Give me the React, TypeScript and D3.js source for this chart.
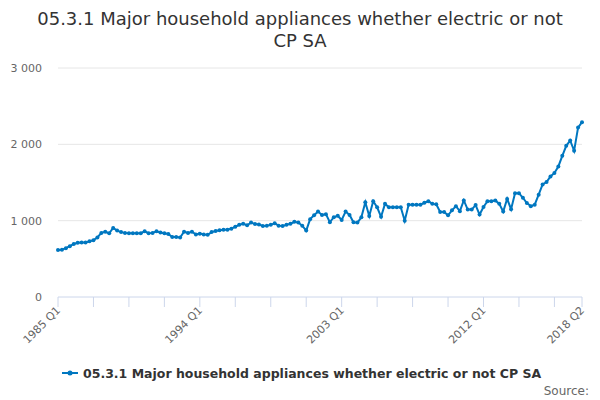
import React from 'react';
import * as d3 from 'd3';

const title = ['05.3.1 Major household appliances whether electric or not', 'CP SA'];
const seriesName = '05.3.1 Major household appliances whether electric or not CP SA';

const startYear = 1985;
const values: number[] = [
  615, 620, 640, 665, 695, 710, 715, 715, 730, 745, 780, 840, 855, 835, 905, 870,
  850, 840, 835, 835, 835, 835, 860, 835, 840, 860, 845, 835, 825, 785, 785, 780,
  855, 840, 855, 820, 830, 820, 815, 850, 865, 875, 880, 880, 895, 920, 945, 960,
  940, 975, 955, 950, 930, 935, 945, 965, 935, 930, 945, 960, 985, 975, 935, 870,
  1020, 1070, 1120, 1075, 1085, 980, 1045, 1065, 1010, 1120, 1075, 980, 975, 1045, 1240, 1060,
  1255, 1175, 1050, 1220, 1175, 1175, 1175, 1175, 1000, 1210, 1210, 1210, 1210, 1235, 1255, 1220,
  1215, 1115, 1115, 1070, 1135, 1190, 1125, 1265, 1145, 1145, 1205, 1080, 1180, 1255, 1255, 1265,
  1220, 1120, 1285, 1150, 1360, 1360, 1300, 1230, 1190, 1210, 1340, 1475, 1505, 1580, 1625, 1710,
  1850, 1980, 2050, 1915, 2220, 2290,
];
const labels = values.map((_, i) => `${startYear + Math.floor(i / 4)} Q${(i % 4) + 1}`);
const yTicks = [0, 1000, 2000, 3000];
const labelIdx = [0, 36, 72, 108, 133];

const W = 600, H = 400;
const m = { left: 58, right: 18, top: 68, bottom: 103 };
const font = '"DejaVu Sans", sans-serif';

export default function App() {
  const x = d3.scaleLinear().domain([0, values.length - 1]).range([m.left, W - m.right]);
  const y = d3.scaleLinear().domain([0, 3000]).range([H - m.bottom, m.top]);
  const line = d3.line<number>().x((_, i) => x(i)).y((d) => y(d));
  const tickIdx = [...d3.range(0, values.length, 9), values.length - 1];
  const base = y(0);

  return (
    <svg width={W} height={H} style={{ position: 'absolute', left: 0, top: 0, fontFamily: font }}>
      <rect width={W} height={H} fill="#fff" />
      {title.map((t, i) => (
        <text key={i} x={W / 2} y={25 + i * 22} textAnchor="middle" fontSize={18} fill="#333">{t}</text>
      ))}
      {yTicks.map((t) => (
        <g key={t}>
          {t > 0 && <line x1={m.left} x2={W - m.right} y1={y(t)} y2={y(t)} stroke="#e6e6e6" />}
          <text x={42} y={y(t) + 4} textAnchor="end" fontSize={11} fill="#666">
            {d3.format(',')(t).replace(',', ' ')}
          </text>
        </g>
      ))}
      <line x1={m.left} x2={W - m.right} y1={base} y2={base} stroke="#ccd6eb" />
      {tickIdx.map((i) => (
        <line key={i} x1={x(i)} x2={x(i)} y1={base} y2={base + 10} stroke="#ccd6eb" />
      ))}
      {labelIdx.map((i) => (
        <text key={i} transform={`translate(${x(i) + 3},${base + 14}) rotate(-45)`} textAnchor="end" fontSize={11} fill="#666">
          {labels[i]}
        </text>
      ))}
      <path d={line(values) ?? ''} fill="none" stroke="#0077c0" strokeWidth={2} />
      {values.map((v, i) => (
        <circle key={i} cx={x(i)} cy={y(v)} r={2} fill="#0077c0" />
      ))}
      <g transform="translate(62,373)">
        <line x1={0} x2={16} y1={0} y2={0} stroke="#0077c0" strokeWidth={2} />
        <circle cx={8} cy={0} r={2.5} fill="#0077c0" />
        <text x={21} y={4.5} fontSize={12.5} fontWeight="bold" fill="#333">{seriesName}</text>
      </g>
      <text x={589} y={395} textAnchor="end" fontSize={12} fill="#666">Source:</text>
    </svg>
  );
}
